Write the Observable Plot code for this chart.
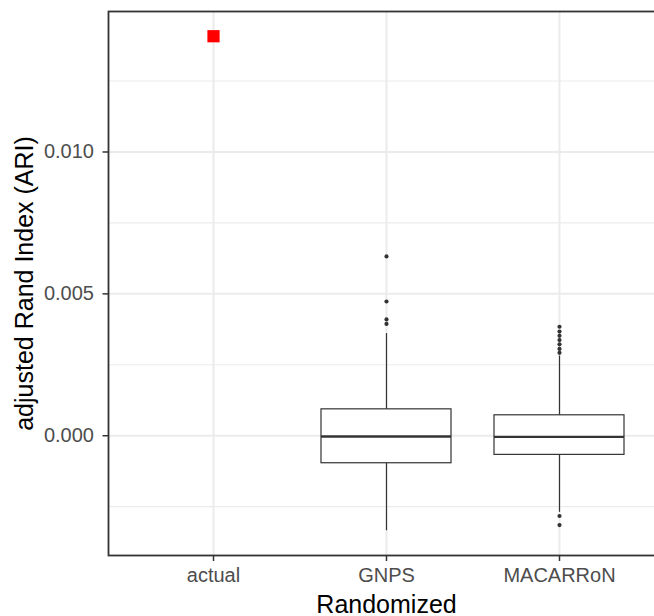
<!DOCTYPE html>
<html><head><meta charset="utf-8">
<script src="https://cdn.jsdelivr.net/npm/d3@7"></script>
<script src="https://cdn.jsdelivr.net/npm/@observablehq/plot@0.6"></script>
<style>html,body{margin:0;padding:0;background:#fff;overflow:hidden;width:654px;height:616px}</style>
</head><body><div id="chart"></div>
<script>
const categories = ["actual", "GNPS", "MACARRoN"];
const boxGroups = ["GNPS", "MACARRoN"];
const boxLowerWhisker = [-0.00335, -0.00270];
const boxQ1 = [-0.00097, -0.000675];
const boxMedian = [-0.00003, -0.00004];
const boxQ3 = [0.00093, 0.00072];
const boxUpperWhisker = [0.00360, 0.00281];
const gnpsOutliers = [0.00632, 0.00473, 0.00410, 0.00394];
const macarronOutliers = [0.00384, 0.00367, 0.00352, 0.00337, 0.00322, 0.00306, 0.00292, -0.00283, -0.00315];
const actualValue = [0.01408];
const yMajorTicks = [0, 0.005, 0.010];
const yMinorTicks = [-0.0025, 0.0025, 0.0075, 0.0125];
const yTickLabels = ["0.000", "0.005", "0.010"];
const xTitle = "Randomized";
const yTitle = "adjusted Rand Index (ARI)";

const boxes = boxGroups.map((g, i) => ({group: g, lo: boxLowerWhisker[i], q1: boxQ1[i], med: boxMedian[i], q3: boxQ3[i], hi: boxUpperWhisker[i]}));
const outliers = [
  ...gnpsOutliers.map(v => ({group: "GNPS", v})),
  ...macarronOutliers.map(v => ({group: "MACARRoN", v}))
];
const actual = actualValue.map(v => ({group: "actual", v}));
const all = [...boxLowerWhisker, ...boxUpperWhisker, ...gnpsOutliers, ...macarronOutliers, ...actualValue];
const [mn, mx] = d3.extent(all);
const pad = (mx - mn) * 0.05;

const chart = Plot.plot({
  width: 654, height: 616,
  marginLeft: 108, marginTop: 11, marginBottom: 61, marginRight: -10,
  style: {fontFamily: "'Liberation Sans', Arial, Helvetica, sans-serif", fontSize: "20px", background: "#fff"},
  x: {type: "band", domain: categories, paddingInner: 0.25, paddingOuter: 0.225, align: 0.5},
  y: {domain: [mn - pad, mx + pad]},
  marks: [
    Plot.gridY(yMinorTicks, {stroke: "#EBEBEB", strokeOpacity: 1, strokeWidth: 1.1}),
    Plot.gridY(yMajorTicks, {stroke: "#EBEBEB", strokeOpacity: 1, strokeWidth: 2}),
    Plot.gridX(categories, {stroke: "#EBEBEB", strokeOpacity: 1, strokeWidth: 2}),
    Plot.ruleX(boxes, {x: "group", y1: "lo", y2: "q1", stroke: "#333", strokeWidth: 1.2}),
    Plot.ruleX(boxes, {x: "group", y1: "q3", y2: "hi", stroke: "#333", strokeWidth: 1.2}),
    Plot.barY(boxes, {x: "group", y1: "q1", y2: "q3", fill: "white", stroke: "#333", strokeWidth: 1.2, insetLeft: 0, insetRight: 0}),
    Plot.tickY(boxes, {x: "group", y: "med", stroke: "#333", strokeWidth: 2.4}),
    Plot.dot(outliers, {x: "group", y: "v", r: 2.1, fill: "#333", stroke: null}),
    Plot.dot(actual, {x: "group", y: "v", symbol: "square", r: 6.9, fill: "red", stroke: null}),
    Plot.frame({stroke: "#333", strokeWidth: 1.8}),
    Plot.axisY(yMajorTicks, {tickFormat: (d, i) => yTickLabels[i], tickSize: 5.5, tickPadding: 9, fontSize: 20, fill: "#4D4D4D", stroke: "#333", strokeWidth: 1.5, label: null}),
    Plot.axisX({tickSize: 6, tickPadding: 6.5, fontSize: 20, fill: "#4D4D4D", stroke: "#333", strokeWidth: 1.5, label: null}),
    Plot.text([yTitle], {frameAnchor: "left", dx: -84, rotate: -90, fontSize: 25, fill: "black", lineAnchor: "middle", textAnchor: "middle"}),
    Plot.text([xTitle], {frameAnchor: "bottom", dy: 49, fontSize: 25, fill: "black", lineAnchor: "middle", textAnchor: "middle"})
  ]
});
document.getElementById("chart").appendChild(chart);
</script>
</body></html>
